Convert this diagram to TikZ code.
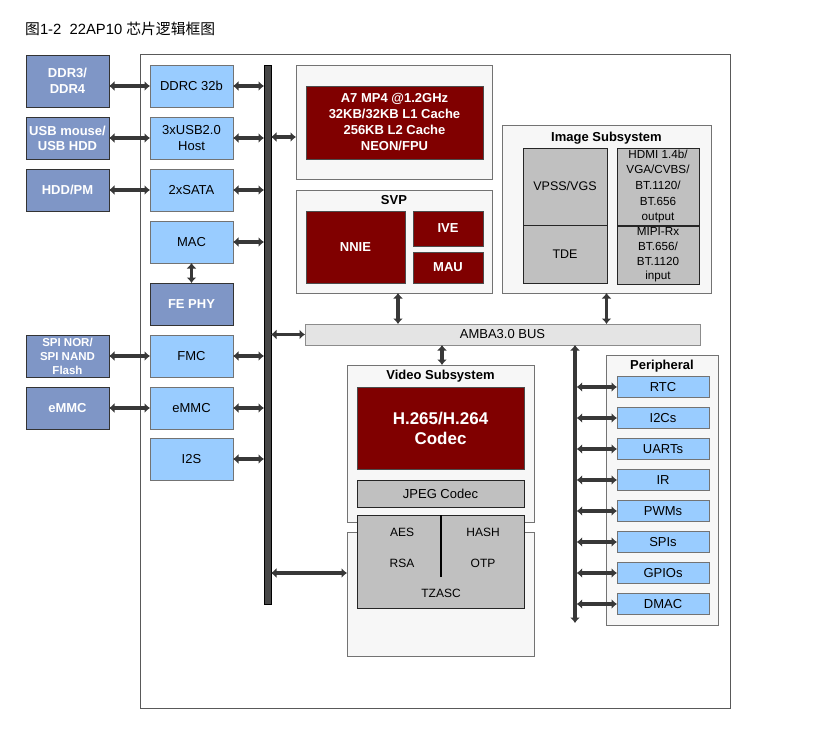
\documentclass[tikz,border=0pt]{standalone}
\usepackage{fontspec}
\setmainfont{Liberation Sans}
\newfontfamily\cjk{Noto Sans CJK SC}
\usetikzlibrary{arrows.meta}
\definecolor{extblue}{HTML}{7F96C6}
\definecolor{ltblue}{HTML}{99CCFF}
\definecolor{dred}{HTML}{800000}
\definecolor{midgrey}{HTML}{C0C0C0}
\definecolor{contfill}{HTML}{F7F7F7}
\definecolor{ambafill}{HTML}{E4E4E4}
\definecolor{busfill}{HTML}{474747}
\tikzset{
  box/.style={rectangle, inner sep=0pt, outer sep=0pt, line width=0.9pt, align=center},
  extbox/.style={box, fill=extblue, draw=black!80, text=white, font=\bfseries\fontsize{13}{15.5}\selectfont},
  lbbox/.style={box, fill=ltblue, draw=black!55, font=\fontsize{13}{16}\selectfont},
  redbox/.style={box, fill=dred, draw=black!70, text=white, font=\bfseries\fontsize{13}{15.7}\selectfont},
  greybox/.style={box, fill=midgrey, draw=black!85, font=\fontsize{12.5}{15}\selectfont},
  contbox/.style={box, fill=contfill, draw=black!55},
  ttl/.style={inner sep=0pt, font=\bfseries\fontsize{13}{15}\selectfont},
  lbl/.style={inner sep=0pt, font=\fontsize{12}{14}\selectfont},
  biarrow/.style={draw=black!78, line width=3.4pt,
     {Latex[length=5.5pt,width=10pt]}-{Latex[length=5.5pt,width=10pt]}},
}
\begin{document}
\begin{tikzpicture}[x=1pt,y=-1pt]
\useasboundingbox (0,0) rectangle (813,730);
\fill[white] (0,0) rectangle (813,730);

% title
\node[anchor=west, inner sep=0pt, font=\fontsize{14.8}{17}\selectfont] (title) at (25,29) {{\cjk 图}1-2\ \ 22AP10 {\cjk 芯片逻辑框图}};

% outer chip box
\node[box, draw=black!65, fill=white, line width=1pt, minimum width=590, minimum height=653] (chip) at (435,381.5) {};

% external devices
\node[extbox, minimum width=83, minimum height=52] (ddr) at (67.5,81) {DDR3/\\DDR4};
\node[extbox, minimum width=83, minimum height=42, font=\bfseries\fontsize{13}{15}\selectfont] (usb) at (67.5,138) {USB mouse/\\USB HDD};
\node[extbox, minimum width=83, minimum height=42] (hdd) at (67.5,190) {HDD/PM};
\node[extbox, minimum width=83, minimum height=42, font=\bfseries\fontsize{11.5}{14}\selectfont] (spi) at (67.5,356) {SPI NOR/\\SPI NAND\\Flash};
\node[extbox, minimum width=83, minimum height=42] (emmcx) at (67.5,408) {eMMC};

% inner controllers
\node[lbbox, minimum width=83, minimum height=42] (ddrc) at (191.5,86) {DDRC 32b};
\node[lbbox, minimum width=83, minimum height=42] (usbh) at (191.5,138) {3xUSB2.0\\Host};
\node[lbbox, minimum width=83, minimum height=42] (sata) at (191.5,190) {2xSATA};
\node[lbbox, minimum width=83, minimum height=42] (mac) at (191.5,242) {MAC};
\node[extbox, minimum width=83, minimum height=42] (phy) at (191.5,304) {FE PHY};
\node[lbbox, minimum width=83, minimum height=42] (fmc) at (191.5,356) {FMC};
\node[lbbox, minimum width=83, minimum height=42] (emmc) at (191.5,408) {eMMC};
\node[lbbox, minimum width=83, minimum height=42] (i2s) at (191.5,459) {I2S};

% system bus bar
\node[box, fill=busfill, draw=black, line width=0.6pt, minimum width=7, minimum height=539] (bus) at (267.5,334.5) {};

% CPU
\node[contbox, minimum width=196, minimum height=114] (cpubox) at (394,122) {};
\node[redbox, minimum width=177, minimum height=73, font=\bfseries\fontsize{13}{16}\selectfont] (cpu) at (394.5,122.5) {A7 MP4 @1.2GHz\\32KB/32KB L1 Cache\\256KB L2 Cache\\NEON/FPU};

% SVP
\node[contbox, minimum width=196, minimum height=103] (svpbox) at (394,241.5) {};
\node[ttl] (svpt) at (394,200) {SVP};
\node[redbox, minimum width=99, minimum height=72] (nnie) at (355.5,247) {NNIE};
\node[redbox, minimum width=70, minimum height=35] (ive) at (448,228.5) {IVE};
\node[redbox, minimum width=70, minimum height=31] (mau) at (448,267.5) {MAU};

% Image subsystem
\node[contbox, minimum width=209, minimum height=168] (imgbox) at (606.5,209) {};
\node[ttl] (imgt) at (606.5,138) {Image Subsystem};
\node[greybox, minimum width=84, minimum height=77] (vpss) at (565,186.5) {VPSS/VGS};
\node[greybox, minimum width=84, minimum height=58] (tde) at (565,254) {TDE};
\node[greybox, minimum width=82, minimum height=77, font=\fontsize{11.7}{15.6}\selectfont] (hdmi) at (658,186.5) {HDMI 1.4b/\\VGA/CVBS/\\BT.1120/\\BT.656\\output};
\node[greybox, minimum width=82, minimum height=58, font=\fontsize{11.7}{14.7}\selectfont] (mipi) at (658,255) {MIPI-Rx\\BT.656/\\BT.1120\\input};

% AMBA bus
\node[box, fill=ambafill, draw=black!45, minimum width=395, minimum height=21, font=\fontsize{13}{15}\selectfont] (amba) at (502.5,334.5) {AMBA3.0 BUS};

% Video subsystem
\node[contbox, minimum width=187, minimum height=157] (vidbox) at (440.5,443.5) {};
\node[ttl] (vidt) at (440.5,376) {Video Subsystem};
\node[redbox, minimum width=167, minimum height=82, font=\bfseries\fontsize{17}{20}\selectfont] (codec) at (440.5,428) {H.265/H.264\\Codec};
\node[greybox, minimum width=167, minimum height=27, font=\fontsize{13}{15}\selectfont] (jpeg) at (440.5,493.5) {JPEG Codec};

% security container + block
\node[contbox, minimum width=187, minimum height=124] (lowbox) at (440.5,594) {};
\node[greybox, minimum width=167, minimum height=93] (sec) at (440.5,561.5) {};
\coordinate (divtop) at (441,515);
\coordinate (divbot) at (441,577);
\draw[black, line width=1.2pt] (divtop) -- (divbot);
\node[lbl] (aes) at (402,532) {AES};
\node[lbl] (hash) at (483,532) {HASH};
\node[lbl] (rsa) at (402,563) {RSA};
\node[lbl] (otp) at (483,563) {OTP};
\node[lbl] (tzasc) at (441,593) {TZASC};

% Peripheral
\node[contbox, minimum width=112, minimum height=270] (perbox) at (662,490) {};
\node[ttl] (pert) at (662,366) {Peripheral};
\foreach \n/\t/\yy in {rtc/RTC/387, i2c/I2Cs/418, uart/UARTs/449, ir/IR/480, pwm/PWMs/511, spis/SPIs/542, gpio/GPIOs/573, dmac/DMAC/604}{
  \node[lbbox, minimum width=92, minimum height=21, font=\fontsize{13}{15}\selectfont] (\n) at (663,\yy) {\t};
}
\coordinate (ptop) at (575,345);
\coordinate (pbot) at (575,623);
\draw[biarrow] (ptop) -- (pbot);
\foreach \n in {rtc,i2c,uart,ir,pwm,spis,gpio,dmac}{
  \draw[biarrow] ([xshift=1.7pt]\n.west -| ptop) -- (\n.west);
}

% arrows external <-> controllers
\draw[biarrow] (ddrc.west -| ddr.east) -- (ddrc.west);
\draw[biarrow] (usb.east) -- (usbh.west);
\draw[biarrow] (hdd.east) -- (sata.west);
\draw[biarrow] (spi.east) -- (fmc.west);
\draw[biarrow] (emmcx.east) -- (emmc.west);
\draw[biarrow] (mac.south) -- (phy.north);

% controllers <-> system bus
\foreach \n in {ddrc,usbh,sata,mac,fmc,emmc,i2s}{
  \draw[biarrow] (\n.east) -- (\n.east -| bus.west);
}
\coordinate (cpuin) at ([yshift=-15pt]cpubox.west);
\draw[biarrow] (cpuin -| bus.east) -- (cpuin);
\draw[biarrow] (amba.west -| bus.east) -- (amba.west);
\coordinate (secin) at ([yshift=21pt]lowbox.west);
\draw[biarrow] (secin -| bus.east) -- (secin);

% AMBA links
\coordinate (svpout) at ([xshift=4pt]svpbox.south);
\draw[biarrow] (svpout) -- (svpout |- amba.north);
\draw[biarrow] (imgbox.south) -- (imgbox.south |- amba.north);
\coordinate (vidin) at ([xshift=1.5pt]vidbox.north);
\draw[biarrow] (vidin |- amba.south) -- (vidin);
\end{tikzpicture}
\end{document}
